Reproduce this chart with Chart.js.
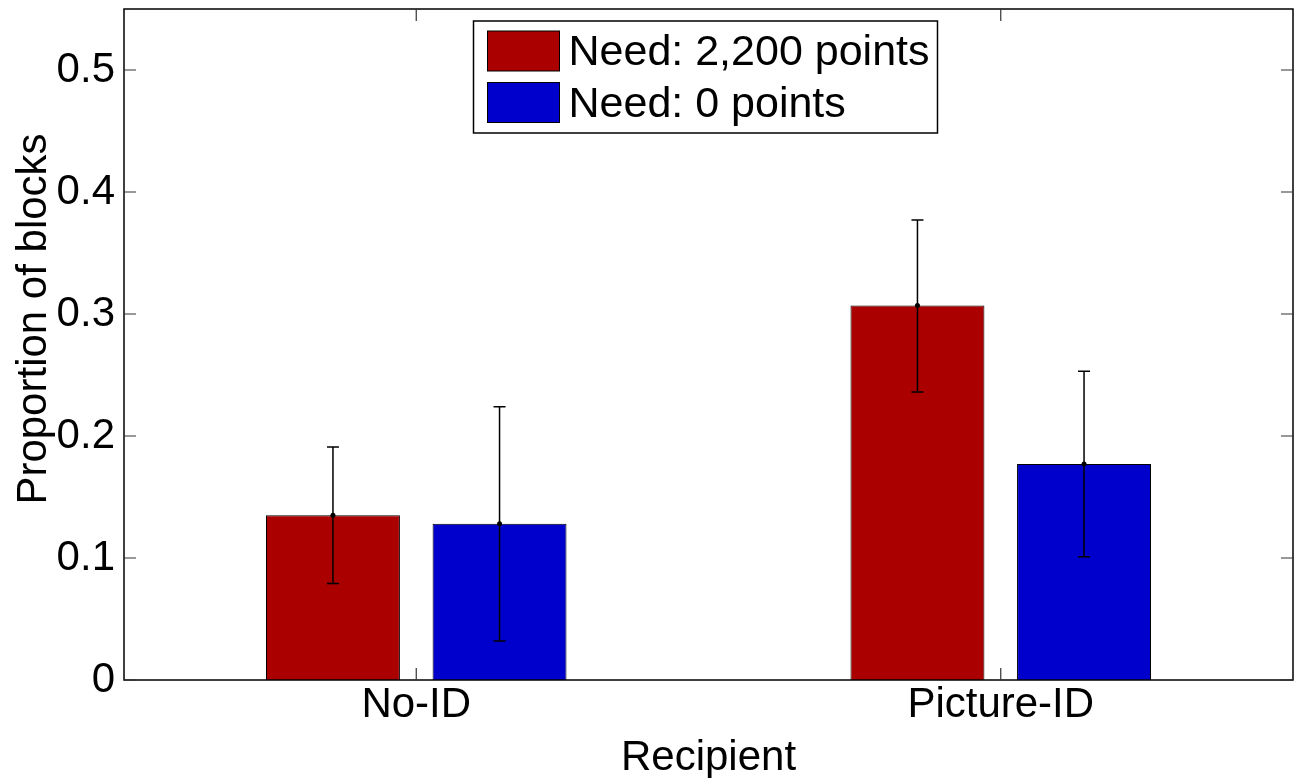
<!DOCTYPE html>
<html>
<head>
<meta charset="utf-8">
<script src="https://cdn.jsdelivr.net/npm/chart.js@4/dist/chart.umd.min.js"></script>
<style>
  body { margin: 0; background: #fff; }
  canvas { display: block; }
</style>
</head>
<body>
<canvas id="chart" width="1296" height="778"></canvas>
<script>
// data
const categories = ['No-ID', 'Picture-ID'];
const seriesLabels = ['Need: 2,200 points', 'Need: 0 points'];
const needHigh = [0.135, 0.307];
const needZero = [0.128, 0.177];
const needHighUpper = [0.191, 0.377];
const needHighLower = [0.079, 0.236];
const needZeroUpper = [0.224, 0.253];
const needZeroLower = [0.032, 0.101];
const yTicks = [0, 0.1, 0.2, 0.3, 0.4, 0.5];

const FONT = '"Liberation Sans", Arial, Helvetica, sans-serif';

// box around the axes with inward ticks on all four sides
const frame = {
  id: 'frame',
  afterDraw(chart) {
    const { ctx, chartArea: a, scales } = chart;
    ctx.save();
    ctx.strokeStyle = '#000';
    ctx.lineWidth = 1.5;
    ctx.strokeRect(a.left, a.top, a.right - a.left, a.bottom - a.top);
    ctx.strokeStyle = '#333';
    ctx.lineWidth = 1.2;
    ctx.beginPath();
    yTicks.forEach(v => {
      const y = scales.y.getPixelForValue(v);
      ctx.moveTo(a.left, y); ctx.lineTo(a.left + 12, y);
      ctx.moveTo(a.right, y); ctx.lineTo(a.right - 12, y);
    });
    categories.forEach((c, i) => {
      const x = scales.x.getPixelForValue(i);
      ctx.moveTo(x, a.bottom); ctx.lineTo(x, a.bottom - 12);
      ctx.moveTo(x, a.top); ctx.lineTo(x, a.top + 12);
    });
    ctx.stroke();

    // axis titles
    ctx.fillStyle = '#000';
    ctx.font = '42px ' + FONT;
    ctx.textAlign = 'center';
    ctx.textBaseline = 'alphabetic';
    ctx.fillText('Recipient', (a.left + a.right) / 2, 770);
    ctx.translate(46, 319);
    ctx.rotate(-Math.PI / 2);
    ctx.fillText('Proportion of blocks', 0, 0);
    ctx.restore();
  }
};

const errorBars = {
  id: 'errorBars',
  afterDatasetsDraw(chart) {
    const { ctx, scales } = chart;
    ctx.save();
    ctx.strokeStyle = '#000';
    ctx.fillStyle = '#000';
    ctx.lineWidth = 1.5;
    chart.data.datasets.forEach((ds, di) => {
      chart.getDatasetMeta(di).data.forEach((bar, i) => {
        const yHi = scales.y.getPixelForValue(ds.errUpper[i]);
        const yLo = scales.y.getPixelForValue(ds.errLower[i]);
        ctx.beginPath();
        ctx.moveTo(bar.x, yHi); ctx.lineTo(bar.x, yLo);
        ctx.moveTo(bar.x - 6, yHi); ctx.lineTo(bar.x + 6, yHi);
        ctx.moveTo(bar.x - 6, yLo); ctx.lineTo(bar.x + 6, yLo);
        ctx.stroke();
        ctx.beginPath();
        ctx.arc(bar.x, bar.y, 2.5, 0, Math.PI * 2);
        ctx.fill();
      });
    });
    ctx.restore();
  }
};

// legend box, upper centre inside the axes
const boxLegend = {
  id: 'boxLegend',
  afterDraw(chart) {
    const { ctx, chartArea: a } = chart;
    ctx.save();
    ctx.font = '43px ' + FONT;
    const textW = Math.max(...chart.data.datasets.map(d => ctx.measureText(d.label).width));
    const w = 14 + 72 + 9 + textW + 8;
    const h = 112;
    const left = (a.left + a.right) / 2 - w / 2 - 3;
    const top = a.top + 12;
    ctx.fillStyle = '#fff';
    ctx.fillRect(left, top, w, h);
    ctx.strokeStyle = '#000';
    ctx.lineWidth = 1.5;
    ctx.strokeRect(left, top, w, h);
    chart.data.datasets.forEach((ds, i) => {
      const sy = top + 10 + i * 51.5;
      ctx.fillStyle = ds.backgroundColor;
      ctx.fillRect(left + 14, sy, 72, 40);
      ctx.lineWidth = 1;
      ctx.strokeRect(left + 14, sy, 72, 40);
      ctx.fillStyle = '#000';
      ctx.textAlign = 'left';
      ctx.textBaseline = 'alphabetic';
      ctx.fillText(ds.label, left + 14 + 72 + 9, sy + 34);
    });
    ctx.restore();
  }
};

new Chart(document.getElementById('chart'), {
  type: 'bar',
  data: {
    labels: categories,
    datasets: [
      {
        label: seriesLabels[0], data: needHigh,
        errUpper: needHighUpper, errLower: needHighLower,
        backgroundColor: '#aa0000', borderColor: '#000', borderWidth: 1
      },
      {
        label: seriesLabels[1], data: needZero,
        errUpper: needZeroUpper, errLower: needZeroLower,
        backgroundColor: '#0000cc', borderColor: '#000', borderWidth: 1
      }
    ]
  },
  options: {
    responsive: false,
    animation: false,
    categoryPercentage: 0.57,
    barPercentage: 0.804,
    layout: { padding: { top: 9, right: 3, left: 0, bottom: 0 } },
    plugins: {
      legend: { display: false },
      tooltip: { enabled: false }
    },
    scales: {
      x: {
        grid: { display: false, drawTicks: false },
        border: { display: false },
        ticks: { color: '#000', padding: 0, font: { family: FONT, size: 42, lineHeight: 1.2 } },
        afterFit(scale) { scale.height = 98; scale.paddingLeft = 0; scale.paddingRight = 0; }
      },
      y: {
        min: 0,
        max: 0.55,
        grid: { display: false, drawTicks: false },
        border: { display: false },
        ticks: {
          color: '#000', padding: 9,
          font: { family: FONT, size: 42 },
          callback: v => String(Math.round(v * 10) / 10)
        },
        afterBuildTicks(scale) {
          scale.ticks = yTicks.map(v => ({ value: v }));
        },
        afterFit(scale) { scale.width = 124; scale.paddingTop = 0; scale.paddingBottom = 0; }
      }
    }
  },
  plugins: [errorBars, frame, boxLegend]
});
</script>
</body>
</html>
